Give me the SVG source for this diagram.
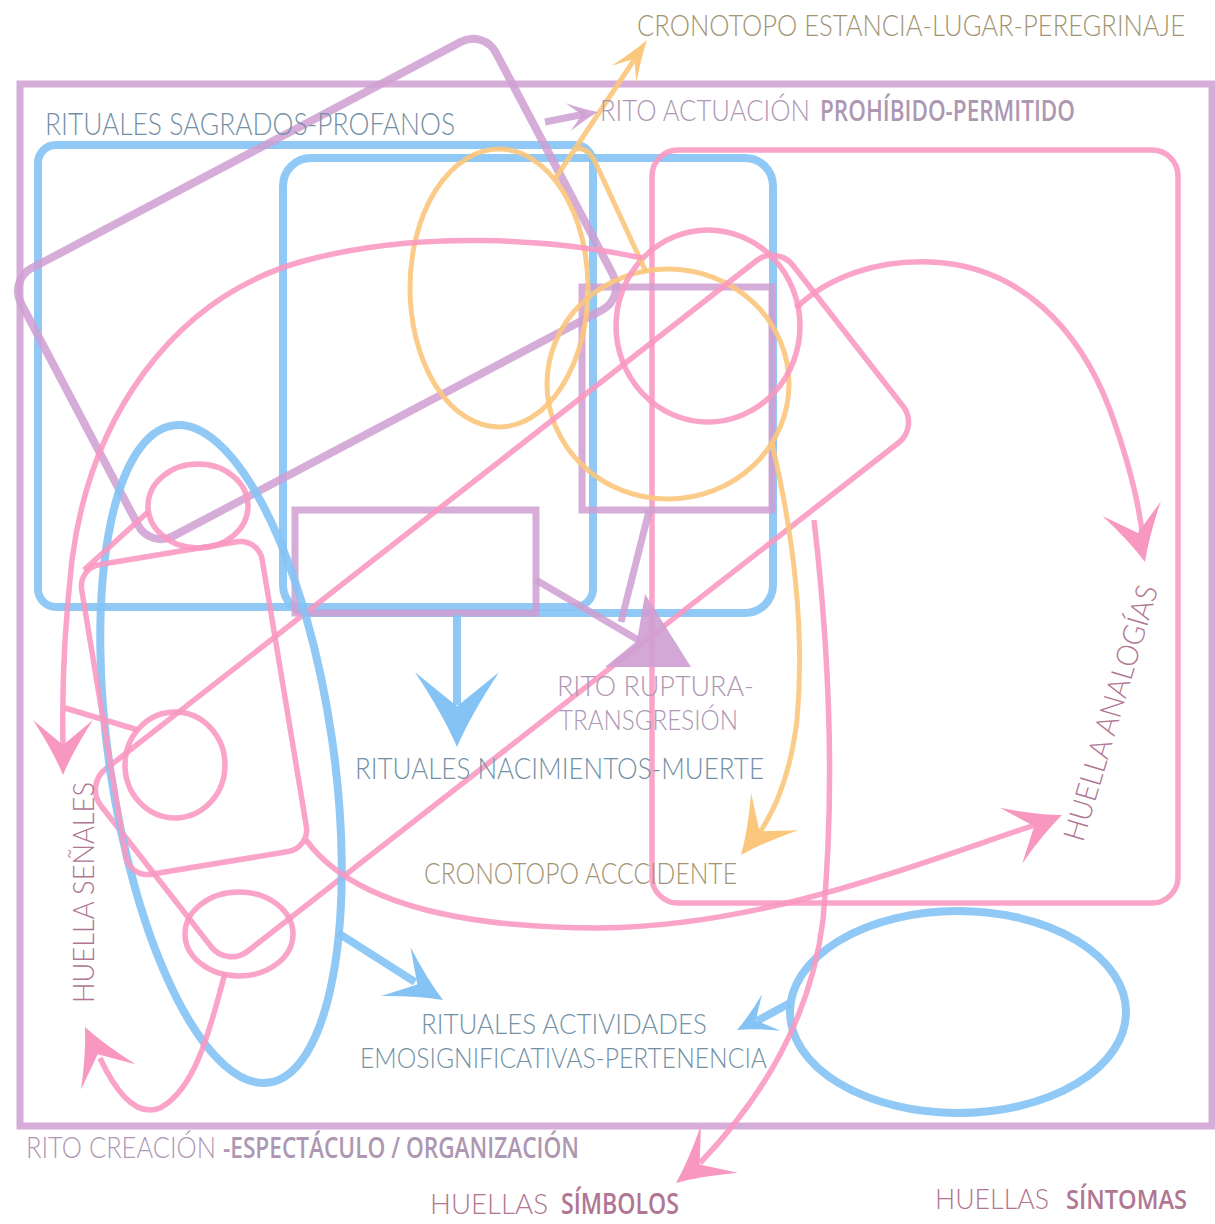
<svg xmlns="http://www.w3.org/2000/svg" xmlns:xlink="http://www.w3.org/1999/xlink" width="1215" height="1224" viewBox="0 0 1215 1224">
<style>
  .pu{fill:none;stroke:#cf9fd1;stroke-width:7;stroke-opacity:.85}
  .bl{fill:none;stroke:#84c3f4;stroke-width:8;stroke-opacity:.9}
  .pk{fill:none;stroke:#f897c0;stroke-width:5.5;stroke-opacity:.88}
  .or{fill:none;stroke:#fbc77c;stroke-width:5;stroke-opacity:.9}
  .fpu{fill:#cf9fd1;fill-opacity:.9}
  .fbl{fill:#84c3f4}
  .fpk{fill:#f897c0}
  .for{fill:#fbc77c}
  text{font-family:Lato,"Open Sans","Liberation Sans",sans-serif;font-weight:300}
  .s{font-family:"Open Sans","Liberation Sans",sans-serif;font-weight:600}
  .tb{fill:#7390a5}
  .to{fill:#a29372}
  .tp{fill:#ae97b2}
  .tr{fill:#b07692}
</style>
<defs>
  <path id="dart" d="M0,0 Q-24,-10 -55,-30 L-30,0 L-55,30 Q-24,10 0,0 Z"/>
</defs>
<rect width="1215" height="1224" fill="#ffffff"/>

<g id="frame-rito-creacion"><rect class="pu" x="20" y="84" width="1192" height="1042"/></g>
<g id="blue-rect-sagrados"><rect class="bl" x="38" y="145" width="555" height="462" rx="18"/></g>
<g id="blue-rect-nacimientos"><rect class="bl" x="283" y="158" width="490" height="455" rx="28"/></g>
<g id="pink-rect-right"><rect class="pk" x="652" y="150" width="526" height="753" rx="26"/></g>
<g id="purple-tilted-rect"><rect class="pu" x="-268.5" y="-151.5" width="537" height="303" rx="26" transform="translate(317,289) rotate(-27.8)" style="stroke-width:8"/></g>
<g id="purple-rect-left"><rect class="pu" x="295" y="510" width="241" height="103"/></g>
<g id="purple-rect-right"><rect class="pu" x="582" y="287" width="190" height="223"/></g>
<g id="orange-ellipse-1"><ellipse class="or" cx="499" cy="288" rx="89" ry="139"/></g>
<g id="orange-ellipse-2"><ellipse class="or" cx="668" cy="384" rx="121" ry="115"/></g>
<g id="pink-circle-top"><ellipse class="pk" cx="708" cy="326" rx="92" ry="96"/></g>
<g id="pink-long-rect"><rect class="pk" x="-439" y="-115.5" width="878" height="231" rx="26" transform="translate(502,606) rotate(-38)"/></g>
<g id="blue-ellipse-tall"><ellipse class="bl" cx="221" cy="754" rx="112" ry="332" transform="rotate(-8.3 221 754)"/></g>
<g id="pink-small-rect"><rect class="pk" x="-91.5" y="-157" width="183" height="314" rx="22" transform="translate(194,708) rotate(-9.4)"/></g>
<g id="pink-ellipse-top-left"><ellipse class="pk" cx="198" cy="506" rx="50" ry="42"/></g>
<g id="pink-circle-left"><ellipse class="pk" cx="175" cy="765" rx="50" ry="53"/></g>
<g id="pink-ellipse-bottom-left"><ellipse class="pk" cx="239" cy="934" rx="54" ry="42"/></g>
<g id="blue-ellipse-right"><ellipse class="bl" cx="958" cy="1012" rx="168" ry="101"/></g>

<g id="connectors">
  <path class="or" d="M555,179 L640,51"/>
  <path class="or" d="M646,272 L598,168 Q589,146 576,149"/>
  <path class="or" d="M772,443 C790,520 806,620 797,720 C791,770 778,805 760,832"/>
  <use xlink:href="#dart" class="for" transform="translate(647,40) rotate(-56) scale(0.75,0.5)"/>
  <use xlink:href="#dart" class="for" transform="translate(741,855) rotate(128)"/>
  <path class="pu" d="M545,122 L585,114"/>
  <use xlink:href="#dart" class="fpu" transform="translate(598,112) rotate(-10) scale(0.55,0.47)"/>
  <path class="pu" d="M536,580 L640,641"/>
  <path class="pu" d="M649,511 L621,622"/>
  <path class="fpu" d="M645,594 L691,667 L605,667 L637,641 Z"/>
  <path class="bl" d="M457,615 L457,705"/>
  <use xlink:href="#dart" class="fbl" transform="translate(457,747) rotate(90) scale(1.36,1.4)"/>
  <path class="bl" d="M338,933 L415,982"/>
  <use xlink:href="#dart" class="fbl" transform="translate(443,1000) rotate(31) scale(1,0.95)"/>
  <path class="bl" d="M790,1003 L757,1021"/>
  <use xlink:href="#dart" class="fbl" transform="translate(737,1030) rotate(153) scale(0.7,0.68)"/>
  <path class="pk" d="M642,258 C560,240 420,228 300,262 C170,300 90,420 72,560 C63,640 62,700 63,745"/>
  <use xlink:href="#dart" class="fpk" transform="translate(63,775) rotate(90)"/>
  <path class="pk" d="M65,708 L138,730"/>
  <path class="pk" d="M148,512 L84,570"/>
  <path class="pk" d="M796,308 C830,275 880,260 930,262 C1020,265 1080,330 1110,410 C1130,465 1140,510 1143,540"/>
  <use xlink:href="#dart" class="fpk" transform="translate(1145,562) rotate(76)"/>
  <path class="pk" d="M306,840 C350,900 450,928 600,928 C760,926 900,870 1035,825"/>
  <use xlink:href="#dart" class="fpk" transform="translate(1062,815) rotate(-22)"/>
  <path class="pk" d="M814,520 C828,640 836,780 823,920 C812,1010 770,1090 700,1163"/>
  <use xlink:href="#dart" class="fpk" transform="translate(676,1183) rotate(142)"/>
  <path class="pk" d="M225,973 C210,1030 195,1090 160,1108 C135,1118 115,1090 100,1058"/>
  <use xlink:href="#dart" class="fpk" transform="translate(85,1027) rotate(-115)"/>
</g>

<g id="labels">
  <text class="tb" transform="translate(45,135) scale(1,1.29)" font-size="24" textLength="410" lengthAdjust="spacingAndGlyphs">RITUALES SAGRADOS-PROFANOS</text>
  <text class="to" transform="translate(637,36) scale(1,1.28)" font-size="23.5" textLength="548" lengthAdjust="spacingAndGlyphs">CRONOTOPO ESTANCIA-LUGAR-PEREGRINAJE</text>
  <text class="tp" transform="translate(600,121) scale(1,1.29)" font-size="23.3" textLength="210" lengthAdjust="spacingAndGlyphs">RITO ACTUACIÓN</text>
  <text class="tp s" transform="translate(820,121) scale(1,1.49)" font-size="18.8" textLength="255" lengthAdjust="spacingAndGlyphs">PROHÍBIDO-PERMITIDO</text>
  <text class="tp" transform="translate(557,696) scale(1,1.2)" font-size="23.2" textLength="197" lengthAdjust="spacingAndGlyphs">RITO RUPTURA-</text>
  <text class="tp" transform="translate(559,730) scale(1,1.2)" font-size="23.2" textLength="179" lengthAdjust="spacingAndGlyphs">TRANSGRESIÓN</text>
  <text class="tb" transform="translate(355,779) scale(1,1.28)" font-size="23.4" textLength="409" lengthAdjust="spacingAndGlyphs">RITUALES NACIMIENTOS-MUERTE</text>
  <text class="to" transform="translate(424,884) scale(1,1.24)" font-size="24.2" textLength="313" lengthAdjust="spacingAndGlyphs">CRONOTOPO ACCCIDENTE</text>
  <text class="tb" transform="translate(421,1034) scale(1,1.28)" font-size="21.8" textLength="286" lengthAdjust="spacingAndGlyphs">RITUALES ACTIVIDADES</text>
  <text class="tb" transform="translate(360,1068) scale(1,1.28)" font-size="21.8" textLength="407" lengthAdjust="spacingAndGlyphs">EMOSIGNIFICATIVAS-PERTENENCIA</text>
  <text class="tp" transform="translate(26,1158) scale(1,1.32)" font-size="22.7" textLength="190" lengthAdjust="spacingAndGlyphs">RITO CREACIÓN</text>
  <text class="tp s" transform="translate(223,1158) scale(1,1.51)" font-size="18.5" textLength="356" lengthAdjust="spacingAndGlyphs">-ESPECTÁCULO / ORGANIZACIÓN</text>
  <text class="tr" transform="translate(430,1214) scale(1,1.08)" font-size="26" textLength="118" lengthAdjust="spacingAndGlyphs">HUELLAS</text>
  <text class="tr s" transform="translate(561,1214) scale(1,1.36)" font-size="20.6" textLength="118" lengthAdjust="spacingAndGlyphs">SÍMBOLOS</text>
  <text class="tr" transform="translate(935,1209) scale(1,1.1)" font-size="25.4" textLength="114" lengthAdjust="spacingAndGlyphs">HUELLAS</text>
  <text class="tr s" transform="translate(1066,1209) scale(1,1.31)" font-size="21.3" textLength="121" lengthAdjust="spacingAndGlyphs">SÍNTOMAS</text>
  <text class="tr" transform="translate(94,1003) rotate(-90) scale(1,1.23)" font-size="24.4" textLength="221" lengthAdjust="spacingAndGlyphs">HUELLA SEÑALES</text>
  <text class="tr" transform="translate(1083,843) rotate(-73.5) scale(1,1.17)" font-size="25.6" textLength="265" lengthAdjust="spacingAndGlyphs">HUELLA ANALOGÍAS</text>
</g>
</svg>
